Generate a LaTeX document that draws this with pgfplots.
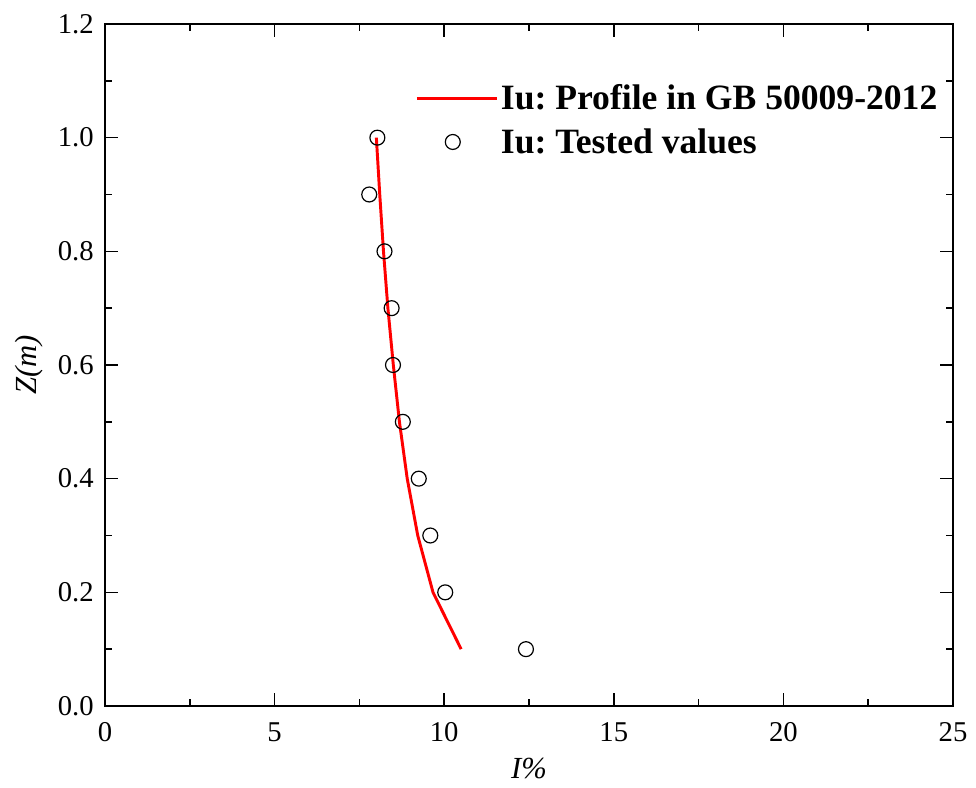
\documentclass[border=0pt]{standalone}
\usepackage{fontspec}
\setmainfont{Liberation Serif}
\usepackage{pgfplots}
\pgfplotsset{compat=1.18}
\usetikzlibrary{calc}
\frenchspacing
\pgfplotsset{
  linelegend/.style={legend image code/.code={\draw[##1] (0pt,0pt) -- (60pt,0pt);}},
  marklegend/.style={legend image code/.code={\draw[##1] plot coordinates {(27pt,0pt)};}},
}
\begin{document}
\begin{tikzpicture}
\begin{axis}[
  scale only axis,
  width=636pt, height=511.5pt,
  xmin=0, xmax=25, ymin=0, ymax=1.2,
  xtick={0,5,...,25}, ytick={0,0.2,...,1.2},
  minor x tick num=1, minor y tick num=1,
  yticklabel style={/pgf/number format/fixed,/pgf/number format/fixed zerofill,/pgf/number format/precision=1, xshift=-5pt},
  /pgf/number format/assume math mode=true,
  tick align=inside,
  major tick length=10pt, minor tick length=5pt,
  every tick/.style={black, line width=1.2pt},
  axis line style={line width=1.5pt},
  tick label style={font=\fontsize{21.5}{25}\selectfont},
  xticklabel style={yshift=-9pt},
  xlabel={\textit{I\%}},
  ylabel={\textit{Z(m)}},
  label style={font=\fontsize{23}{27}\selectfont},
  xlabel style={yshift=-5pt},
  ylabel style={yshift=4pt},
  legend style={draw=none, fill=none, at={(0.985,0.915)}, anchor=north east,
    font=\bfseries\fontsize{26.7}{30}\selectfont,
    row sep=8.5pt, inner sep=0pt,
    /tikz/every even column/.append style={column sep=0pt}},
  legend cell align=left,
]
\addplot[red, line width=2.2pt, linelegend]
  coordinates {
  (10.50,0.1) (9.67,0.2) (9.22,0.3) (8.91,0.4) (8.68,0.5)
  (8.50,0.6) (8.34,0.7) (8.21,0.8) (8.10,0.9) (8.00,1.0)
};
\addlegendentry{Iu: Profile in GB 50009-2012}
\addplot[only marks, mark=o, mark size=5.6pt, black, line width=0.9pt,
  mark options={fill=white}, marklegend]
  coordinates {
  (12.41,0.1) (10.03,0.2) (9.59,0.3) (9.25,0.4) (8.78,0.5)
  (8.49,0.6) (8.45,0.7) (8.24,0.8) (7.79,0.9) (8.03,1.0)
};
\addlegendentry{Iu: Tested values}
\end{axis}
\pgfresetboundingbox
\path[use as bounding box] ($(current axis.south west)+(-78.75pt,-61pt)$) rectangle ($(current axis.north east)+(17.25pt,18pt)$);
\end{tikzpicture}
\end{document}
